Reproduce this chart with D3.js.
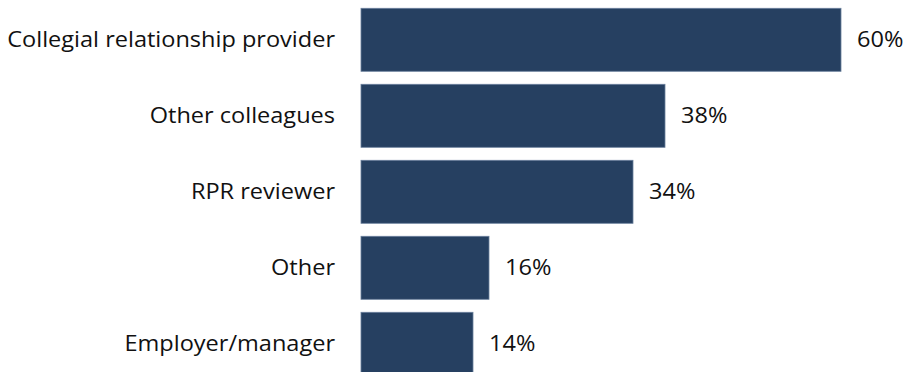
<!DOCTYPE html>
<html>
<head>
<meta charset="utf-8">
<script src="https://cdn.jsdelivr.net/npm/d3@7"></script>
<style>
  html, body { margin: 0; padding: 0; background: #fff; }
  svg { display: block; }
  text { font-family: "Open Sans", Lato, sans-serif; fill: #111; }
</style>
</head>
<body>
<svg id="chart" width="907" height="372"></svg>
<script>
// Share of respondents by who they discussed it with
const categories = [
  "Collegial relationship provider",
  "Other colleagues",
  "RPR reviewer",
  "Other",
  "Employer/manager"
];
const values = [0.60, 0.38, 0.34, 0.16, 0.14];

const width = 907, height = 372;
const fontSize = 22;
const stretch = 1.07;   // slightly wide lettering
const svg = d3.select("#chart");

const x = d3.scaleLinear().domain([0, 0.6]).range([361, 841]);
const y = d3.scaleBand()
  .domain(categories)
  .range([1.8, 381.8])
  .paddingInner(0.171)
  .paddingOuter(0.0855);

const fmt = d3.format(".0%");
const data = categories.map((c, i) => ({ cat: c, val: values[i] }));

// bars
svg.append("g")
  .selectAll("rect")
  .data(data)
  .join("rect")
  .attr("x", x(0))
  .attr("y", d => y(d.cat))
  .attr("width", d => x(d.val) - x(0))
  .attr("height", y.bandwidth())
  .attr("fill", "#264061")
  .attr("stroke", "#6a7f9c")
  .attr("stroke-width", 0.8);

// category labels, right-aligned to the left of the bars
svg.append("g")
  .selectAll("g")
  .data(data)
  .join("g")
  .attr("transform", d => `translate(${x(0) - 26},${y(d.cat) + y.bandwidth() / 2}) scale(${stretch},1)`)
  .append("text")
  .attr("text-anchor", "end")
  .attr("dy", "0.33em")
  .attr("font-size", fontSize)
  .text(d => d.cat);

// value labels at bar ends
svg.append("g")
  .selectAll("g")
  .data(data)
  .join("g")
  .attr("transform", d => `translate(${x(d.val) + 16},${y(d.cat) + y.bandwidth() / 2}) scale(${stretch},1)`)
  .append("text")
  .attr("dy", "0.33em")
  .attr("font-size", fontSize)
  .text(d => fmt(d.val));
</script>
</body>
</html>
